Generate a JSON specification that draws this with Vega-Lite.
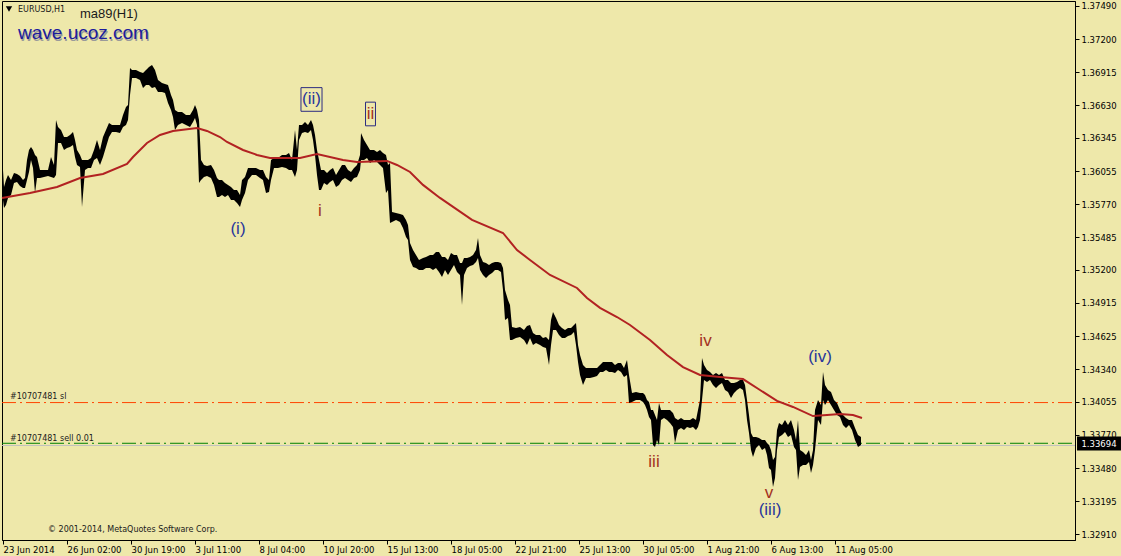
{
"$schema":"https://vega.github.io/schema/vega-lite/v6.json",
"width":1073,"height":539,
"autosize":{"type":"none"},
"padding":{"left":2,"top":1,"right":46,"bottom":16},
"background":"#EEE8AA",
"config":{"view":{"stroke":"black","strokeWidth":1},"axis":{"grid":false}},
"datasets":{
"levels":[{"kind":"bid","i":0,"p":1.33678},{"kind":"bid","i":1073,"p":1.33678},{"kind":"sell","i":0,"p":1.33697},{"kind":"sell","i":1073,"p":1.33697},{"kind":"sl","i":0,"p":1.3405},{"kind":"sl","i":1073,"p":1.3405}],
"price":[{"i":1,"h":1.36067,"p":1.35807},{"i":2,"h":1.3592,"p":1.35738},{"i":4,"h":1.35981,"p":1.35764},{"i":6,"h":1.36024,"p":1.35825},{"i":9,"h":1.35981,"p":1.35851},{"i":12,"h":1.36041,"p":1.35955},{"i":15,"h":1.36033,"p":1.35964},{"i":18,"h":1.36015,"p":1.35929},{"i":21,"h":1.35981,"p":1.35912},{"i":23,"h":1.35998,"p":1.35912},{"i":25,"h":1.36154,"p":1.35981},{"i":27,"h":1.36241,"p":1.3605},{"i":29,"h":1.36267,"p":1.36154},{"i":31,"h":1.36241,"p":1.36085},{"i":33,"h":1.36198,"p":1.35868},{"i":35,"h":1.3618,"p":1.35998},{"i":38,"h":1.36067,"p":1.35998},{"i":42,"h":1.36067,"p":1.36007},{"i":46,"h":1.36067,"p":1.36015},{"i":49,"h":1.3618,"p":1.36007},{"i":52,"h":1.36111,"p":1.35998},{"i":54,"h":1.36501,"p":1.36024},{"i":56,"h":1.3644,"p":1.36302},{"i":59,"h":1.36414,"p":1.36302},{"i":62,"h":1.36353,"p":1.36241},{"i":65,"h":1.36353,"p":1.36258},{"i":68,"h":1.36371,"p":1.36267},{"i":71,"h":1.36397,"p":1.36284},{"i":73,"h":1.36328,"p":1.3618},{"i":75,"h":1.36241,"p":1.36111},{"i":78,"h":1.36198,"p":1.36093},{"i":80,"h":1.36154,"p":1.35746},{"i":83,"h":1.36154,"p":1.36067},{"i":86,"h":1.36154,"p":1.36085},{"i":89,"h":1.36171,"p":1.36085},{"i":92,"h":1.36241,"p":1.36154},{"i":95,"h":1.36328,"p":1.36171},{"i":98,"h":1.36241,"p":1.36111},{"i":101,"h":1.36353,"p":1.3618},{"i":104,"h":1.36414,"p":1.36267},{"i":107,"h":1.36475,"p":1.36353},{"i":110,"h":1.36458,"p":1.36397},{"i":114,"h":1.36458,"p":1.36397},{"i":118,"h":1.36458,"p":1.36388},{"i":121,"h":1.36545,"p":1.3644},{"i":124,"h":1.36614,"p":1.36458},{"i":126,"h":1.36631,"p":1.36501},{"i":128,"h":1.36952,"p":1.36718},{"i":130,"h":1.36935,"p":1.36865},{"i":134,"h":1.36935,"p":1.36865},{"i":138,"h":1.36917,"p":1.36848},{"i":141,"h":1.36909,"p":1.36779},{"i":144,"h":1.36935,"p":1.36805},{"i":147,"h":1.36961,"p":1.36805},{"i":150,"h":1.36978,"p":1.36779},{"i":153,"h":1.36935,"p":1.36787},{"i":156,"h":1.36848,"p":1.36744},{"i":160,"h":1.36822,"p":1.36744},{"i":163,"h":1.36813,"p":1.36735},{"i":166,"h":1.36805,"p":1.36649},{"i":169,"h":1.36718,"p":1.36588},{"i":171,"h":1.36675,"p":1.36527},{"i":173,"h":1.36588,"p":1.36414},{"i":176,"h":1.36571,"p":1.36458},{"i":180,"h":1.36571,"p":1.36475},{"i":184,"h":1.36545,"p":1.36458},{"i":188,"h":1.36545,"p":1.3644},{"i":191,"h":1.36588,"p":1.36484},{"i":193,"h":1.36631,"p":1.36519},{"i":195,"h":1.36588,"p":1.36458},{"i":197,"h":1.36501,"p":1.35955},{"i":199,"h":1.36154,"p":1.35981},{"i":202,"h":1.36111,"p":1.36007},{"i":205,"h":1.36102,"p":1.36015},{"i":209,"h":1.36111,"p":1.35998},{"i":212,"h":1.36067,"p":1.35938},{"i":215,"h":1.35998,"p":1.35834},{"i":217,"h":1.35981,"p":1.35834},{"i":220,"h":1.35981,"p":1.35851},{"i":223,"h":1.35955,"p":1.35834},{"i":226,"h":1.35938,"p":1.35851},{"i":229,"h":1.3592,"p":1.35807},{"i":232,"h":1.35894,"p":1.35807},{"i":235,"h":1.35894,"p":1.35781},{"i":238,"h":1.35851,"p":1.35746},{"i":240,"h":1.35981,"p":1.35807},{"i":243,"h":1.36007,"p":1.35868},{"i":246,"h":1.36085,"p":1.35981},{"i":250,"h":1.36085,"p":1.36024},{"i":254,"h":1.36085,"p":1.36024},{"i":258,"h":1.36067,"p":1.35998},{"i":261,"h":1.36067,"p":1.35981},{"i":264,"h":1.36007,"p":1.35868},{"i":267,"h":1.35981,"p":1.35877},{"i":269,"h":1.36154,"p":1.35981},{"i":272,"h":1.36171,"p":1.36085},{"i":276,"h":1.36171,"p":1.36085},{"i":280,"h":1.36198,"p":1.36093},{"i":284,"h":1.36198,"p":1.36085},{"i":287,"h":1.36215,"p":1.36067},{"i":290,"h":1.36154,"p":1.36067},{"i":293,"h":1.36414,"p":1.36007},{"i":295,"h":1.36241,"p":1.36067},{"i":297,"h":1.36458,"p":1.36328},{"i":300,"h":1.36458,"p":1.36388},{"i":303,"h":1.36484,"p":1.36397},{"i":306,"h":1.36458,"p":1.36388},{"i":309,"h":1.36501,"p":1.36414},{"i":311,"h":1.36458,"p":1.36328},{"i":313,"h":1.36371,"p":1.36198},{"i":315,"h":1.36241,"p":1.36024},{"i":317,"h":1.36154,"p":1.35894},{"i":319,"h":1.36067,"p":1.35894},{"i":322,"h":1.36067,"p":1.35955},{"i":325,"h":1.36041,"p":1.35938},{"i":328,"h":1.36067,"p":1.35964},{"i":331,"h":1.36085,"p":1.35981},{"i":334,"h":1.36024,"p":1.3592},{"i":337,"h":1.36067,"p":1.35938},{"i":340,"h":1.36111,"p":1.35981},{"i":343,"h":1.36111,"p":1.35998},{"i":346,"h":1.36067,"p":1.35981},{"i":349,"h":1.3605,"p":1.35964},{"i":352,"h":1.36085,"p":1.35998},{"i":355,"h":1.36111,"p":1.36007},{"i":358,"h":1.36198,"p":1.36067},{"i":359,"h":1.36388,"p":1.36154},{"i":362,"h":1.36328,"p":1.36154},{"i":365,"h":1.36284,"p":1.36171},{"i":368,"h":1.36241,"p":1.36128},{"i":372,"h":1.36241,"p":1.36154},{"i":375,"h":1.36223,"p":1.36137},{"i":378,"h":1.36241,"p":1.36111},{"i":381,"h":1.36215,"p":1.36085},{"i":384,"h":1.36198,"p":1.35868},{"i":386,"h":1.36111,"p":1.35894},{"i":388,"h":1.36128,"p":1.35608},{"i":390,"h":1.35703,"p":1.35617},{"i":394,"h":1.35694,"p":1.35634},{"i":398,"h":1.35686,"p":1.35617},{"i":401,"h":1.35677,"p":1.35564},{"i":404,"h":1.35634,"p":1.35486},{"i":406,"h":1.3559,"p":1.3546},{"i":408,"h":1.35434,"p":1.35287},{"i":411,"h":1.35373,"p":1.35226},{"i":414,"h":1.3533,"p":1.35217},{"i":417,"h":1.35287,"p":1.352},{"i":421,"h":1.35304,"p":1.352},{"i":424,"h":1.35313,"p":1.35217},{"i":428,"h":1.3533,"p":1.35217},{"i":431,"h":1.3533,"p":1.352},{"i":434,"h":1.35356,"p":1.35217},{"i":437,"h":1.35356,"p":1.35183},{"i":440,"h":1.35313,"p":1.35139},{"i":443,"h":1.35313,"p":1.352},{"i":446,"h":1.35287,"p":1.35157},{"i":449,"h":1.35347,"p":1.352},{"i":452,"h":1.3533,"p":1.35243},{"i":455,"h":1.3533,"p":1.35183},{"i":458,"h":1.35261,"p":1.35157},{"i":460,"h":1.35261,"p":1.34896},{"i":462,"h":1.35304,"p":1.35157},{"i":465,"h":1.35304,"p":1.35217},{"i":468,"h":1.35313,"p":1.35235},{"i":471,"h":1.3533,"p":1.35243},{"i":474,"h":1.35373,"p":1.35269},{"i":476,"h":1.35478,"p":1.35304},{"i":478,"h":1.3533,"p":1.352},{"i":481,"h":1.35269,"p":1.35157},{"i":484,"h":1.35261,"p":1.35131},{"i":487,"h":1.35243,"p":1.35157},{"i":490,"h":1.35261,"p":1.35174},{"i":493,"h":1.35269,"p":1.352},{"i":496,"h":1.35269,"p":1.352},{"i":499,"h":1.35261,"p":1.35183},{"i":501,"h":1.35217,"p":1.35026},{"i":503,"h":1.35026,"p":1.34766},{"i":506,"h":1.3494,"p":1.34784},{"i":508,"h":1.34896,"p":1.34593},{"i":510,"h":1.34706,"p":1.34593},{"i":514,"h":1.34697,"p":1.3461},{"i":518,"h":1.34706,"p":1.34619},{"i":522,"h":1.34679,"p":1.34593},{"i":525,"h":1.34714,"p":1.34549},{"i":528,"h":1.34723,"p":1.3461},{"i":531,"h":1.34653,"p":1.34549},{"i":534,"h":1.34636,"p":1.34567},{"i":538,"h":1.34636,"p":1.34549},{"i":541,"h":1.3461,"p":1.34532},{"i":544,"h":1.34619,"p":1.34523},{"i":547,"h":1.34593,"p":1.34376},{"i":549,"h":1.34766,"p":1.34549},{"i":551,"h":1.34836,"p":1.34679},{"i":554,"h":1.34784,"p":1.34679},{"i":557,"h":1.34723,"p":1.34636},{"i":560,"h":1.34697,"p":1.3461},{"i":563,"h":1.34679,"p":1.3461},{"i":566,"h":1.34697,"p":1.34627},{"i":569,"h":1.34697,"p":1.34636},{"i":572,"h":1.34723,"p":1.34662},{"i":574,"h":1.3474,"p":1.34549},{"i":576,"h":1.34549,"p":1.34402},{"i":578,"h":1.34463,"p":1.34289},{"i":581,"h":1.34376,"p":1.34202},{"i":584,"h":1.3435,"p":1.34263},{"i":588,"h":1.3435,"p":1.34263},{"i":592,"h":1.3435,"p":1.34272},{"i":595,"h":1.3435,"p":1.3428},{"i":598,"h":1.34376,"p":1.34315},{"i":601,"h":1.34402,"p":1.34315},{"i":604,"h":1.34402,"p":1.34332},{"i":607,"h":1.34402,"p":1.34315},{"i":610,"h":1.34402,"p":1.34315},{"i":613,"h":1.34376,"p":1.34306},{"i":616,"h":1.34393,"p":1.34332},{"i":619,"h":1.34393,"p":1.34315},{"i":622,"h":1.3435,"p":1.34272},{"i":625,"h":1.34419,"p":1.34289},{"i":627,"h":1.34289,"p":1.34046},{"i":630,"h":1.34133,"p":1.34055},{"i":634,"h":1.34141,"p":1.34072},{"i":638,"h":1.34133,"p":1.34072},{"i":641,"h":1.34133,"p":1.34055},{"i":643,"h":1.34115,"p":1.34029},{"i":645,"h":1.34072,"p":1.33985},{"i":647,"h":1.34055,"p":1.33924},{"i":649,"h":1.33985,"p":1.33899},{"i":651,"h":1.33985,"p":1.33682},{"i":653,"h":1.33942,"p":1.33664},{"i":655,"h":1.33899,"p":1.33725},{"i":657,"h":1.34046,"p":1.33682},{"i":659,"h":1.33985,"p":1.33899},{"i":662,"h":1.33985,"p":1.33916},{"i":665,"h":1.33985,"p":1.33899},{"i":668,"h":1.33985,"p":1.33873},{"i":671,"h":1.33959,"p":1.33838},{"i":673,"h":1.33916,"p":1.33699},{"i":676,"h":1.33899,"p":1.33812},{"i":679,"h":1.33916,"p":1.33829},{"i":682,"h":1.33899,"p":1.33812},{"i":685,"h":1.33899,"p":1.33838},{"i":688,"h":1.33899,"p":1.33829},{"i":691,"h":1.33916,"p":1.33838},{"i":694,"h":1.33899,"p":1.33812},{"i":696,"h":1.33985,"p":1.33838},{"i":698,"h":1.34072,"p":1.33899},{"i":700,"h":1.34436,"p":1.34072},{"i":702,"h":1.34376,"p":1.34246},{"i":705,"h":1.34332,"p":1.34228},{"i":708,"h":1.34315,"p":1.34246},{"i":711,"h":1.34289,"p":1.34202},{"i":714,"h":1.34306,"p":1.34176},{"i":717,"h":1.34289,"p":1.34202},{"i":720,"h":1.34306,"p":1.3422},{"i":723,"h":1.34246,"p":1.34159},{"i":726,"h":1.34246,"p":1.34141},{"i":729,"h":1.3422,"p":1.3409},{"i":732,"h":1.3422,"p":1.34133},{"i":735,"h":1.34228,"p":1.34159},{"i":738,"h":1.34246,"p":1.34176},{"i":741,"h":1.34246,"p":1.34159},{"i":743,"h":1.34202,"p":1.34072},{"i":745,"h":1.34072,"p":1.33899},{"i":747,"h":1.33942,"p":1.33786},{"i":749,"h":1.33786,"p":1.33638},{"i":751,"h":1.33751,"p":1.33578},{"i":754,"h":1.33751,"p":1.33656},{"i":757,"h":1.33742,"p":1.33682},{"i":760,"h":1.33725,"p":1.33638},{"i":763,"h":1.33725,"p":1.33656},{"i":765,"h":1.33699,"p":1.33595},{"i":767,"h":1.33682,"p":1.33482},{"i":769,"h":1.33638,"p":1.33465},{"i":771,"h":1.33552,"p":1.33317},{"i":773,"h":1.33578,"p":1.33395},{"i":775,"h":1.33812,"p":1.33638},{"i":777,"h":1.33873,"p":1.33751},{"i":780,"h":1.33855,"p":1.33768},{"i":783,"h":1.33899,"p":1.33795},{"i":786,"h":1.33855,"p":1.33751},{"i":789,"h":1.33899,"p":1.33768},{"i":792,"h":1.33812,"p":1.33664},{"i":794,"h":1.33725,"p":1.33638},{"i":796,"h":1.33899,"p":1.33378},{"i":798,"h":1.33638,"p":1.33491},{"i":801,"h":1.33621,"p":1.33508},{"i":804,"h":1.33595,"p":1.33508},{"i":807,"h":1.33638,"p":1.33534},{"i":809,"h":1.33552,"p":1.33439},{"i":811,"h":1.33638,"p":1.33508},{"i":813,"h":1.33985,"p":1.33638},{"i":816,"h":1.34072,"p":1.33899},{"i":819,"h":1.34029,"p":1.33855},{"i":821,"h":1.34315,"p":1.34072},{"i":823,"h":1.34202,"p":1.34029},{"i":826,"h":1.34159,"p":1.34072},{"i":829,"h":1.34141,"p":1.34029},{"i":832,"h":1.34072,"p":1.33985},{"i":835,"h":1.34046,"p":1.33942},{"i":838,"h":1.33985,"p":1.33924},{"i":841,"h":1.33942,"p":1.33855},{"i":844,"h":1.33916,"p":1.33829},{"i":847,"h":1.33899,"p":1.33855},{"i":850,"h":1.33899,"p":1.33812},{"i":853,"h":1.33829,"p":1.33725},{"i":856,"h":1.33768,"p":1.33664},{"i":859,"h":1.33751,"p":1.33682}],
"ma":[{"i":0,"p":1.35825},{"i":28,"p":1.35868},{"i":55,"p":1.3592},{"i":78,"p":1.35998},{"i":101,"p":1.36033},{"i":125,"p":1.3612},{"i":131,"p":1.3618},{"i":145,"p":1.36302},{"i":158,"p":1.36371},{"i":171,"p":1.36406},{"i":195,"p":1.36432},{"i":205,"p":1.36406},{"i":218,"p":1.36353},{"i":225,"p":1.3631},{"i":241,"p":1.36241},{"i":255,"p":1.36198},{"i":268,"p":1.36171},{"i":298,"p":1.36171},{"i":315,"p":1.36206},{"i":341,"p":1.36154},{"i":355,"p":1.36137},{"i":385,"p":1.36146},{"i":395,"p":1.36111},{"i":408,"p":1.3605},{"i":421,"p":1.35938},{"i":438,"p":1.35825},{"i":470,"p":1.35634},{"i":501,"p":1.35521},{"i":515,"p":1.35373},{"i":528,"p":1.35287},{"i":548,"p":1.35157},{"i":575,"p":1.35044},{"i":585,"p":1.34957},{"i":598,"p":1.34871},{"i":615,"p":1.34792},{"i":628,"p":1.34723},{"i":648,"p":1.34593},{"i":665,"p":1.34463},{"i":681,"p":1.34358},{"i":698,"p":1.34289},{"i":718,"p":1.34272},{"i":741,"p":1.34254},{"i":758,"p":1.34159},{"i":775,"p":1.34064},{"i":791,"p":1.34012},{"i":811,"p":1.33933},{"i":825,"p":1.33942},{"i":838,"p":1.33951},{"i":851,"p":1.33942},{"i":860,"p":1.33916}],
"labels":[{"t":"(i)","deg":"minor","i":236,"p":1.35555},{"t":"i","deg":"minute","i":318,"p":1.35712},{"t":"(ii)","deg":"minor","i":309.5,"p":1.36679},{"t":"ii","deg":"minute","i":368.5,"p":1.36553},{"t":"iii","deg":"minute","i":652,"p":1.33535},{"t":"iv","deg":"minute","i":703.5,"p":1.3458},{"t":"v","deg":"minute","i":767,"p":1.33266},{"t":"(iii)","deg":"minor","i":768,"p":1.33114},{"t":"(iv)","deg":"minor","i":818,"p":1.34445}],
"notes":[{"role":"sym","i":7,"p":1.37464,"t":""},{"role":"symbol","i":16,"p":1.37455,"t":"EURUSD,H1"},{"role":"ind","i":78,"p":1.37421,"t":"ma89(H1)"},{"role":"site","i":16,"p":1.37256,"t":"wave.ucoz.com"},{"role":"small","i":8,"p":1.34098,"t":"#10707481 sl"},{"role":"small","i":8,"p":1.33734,"t":"#10707481 sell 0.01"},{"role":"small","i":46,"p":1.32945,"t":"© 2001-2014, MetaQuotes Software Corp."}],
"last":[{"i":1097,"p":1.33694,"t":"1.33694"}]
},
"encoding":{
 "x":{"field":"i","type":"quantitative","scale":{"domain":[0,1073],"nice":false,"zero":false},
  "axis":{"orient":"bottom","values":[1,65,129,193,257,321,385,449,513,577,641,705,769,833],"labelExpr":"['23 Jun 2014','26 Jun 02:00','30 Jun 19:00','3 Jul 11:00','8 Jul 04:00','10 Jul 20:00','15 Jul 13:00','18 Jul 05:00','22 Jul 21:00','25 Jul 13:00','30 Jul 05:00','1 Aug 21:00','6 Aug 13:00','11 Aug 05:00'][round((datum.value-1)/64)]","title":null,"tickSize":4,"tickColor":"black","domainColor":"black","labelColor":"black","labelFont":"DejaVu Sans","labelFontSize":8.5,"labelAlign":"left","labelPadding":1,"labelFlush":false,"labelOverlap":false,"labelBound":false}},
 "y":{"field":"p","type":"quantitative","scale":{"domain":[1.32858,1.37533],"nice":false,"zero":false},
  "axis":{"orient":"right","values":[1.3291,1.33195,1.3348,1.3377,1.34055,1.3434,1.34625,1.34915,1.352,1.35485,1.3577,1.36055,1.36345,1.3663,1.36915,1.372,1.3749],"format":".5f","title":null,"tickSize":4,"tickColor":"black","domainColor":"black","labelColor":"black","labelFont":"DejaVu Sans","labelFontSize":8.5,"labelPadding":2,"labelOverlap":false,"labelBound":false,"labelFlush":false}}
},
"resolve":{"scale":{"color":"independent","strokeDash":"independent"}},
"layer":[
{"data":{"name":"levels"},"mark":{"type":"line","strokeWidth":1},
 "encoding":{
 "color":{"field":"kind","type":"nominal","scale":{"domain":["bid","sell","sl"],"range":["#c0c0c0","#008000","#ff4500"]},"legend":null},
 "strokeDash":{"field":"kind","type":"nominal","scale":{"domain":["bid","sell","sl"],"range":[[1,0],[14,4,2,4],[14,4,2,4]]},"legend":null}}},
{"data":{"name":"price"},"mark":{"type":"area","color":"black"},
 "encoding":{"y2":{"field":"h"}}},
{"data":{"name":"ma"},"mark":{"type":"line","color":"#b22222","strokeWidth":2},"encoding":{}},
{"data":{"name":"labels"},"transform":[{"filter":"datum.t === '(ii)'"}],"mark":{"type":"point","filled":false,"stroke":"#2b2b80","strokeWidth":1,"opacity":1,"size":560,"shape":"M-0.89,-1H0.89V1H-0.89Z"},"encoding":{}},
{"data":{"name":"labels"},"transform":[{"filter":"datum.t === 'ii'"}],"mark":{"type":"point","filled":false,"stroke":"#2b2b80","strokeWidth":1,"opacity":1,"size":560,"shape":"M-0.42,-1H0.42V1H-0.42Z"},"encoding":{}},
{"data":{"name":"labels"},"mark":{"type":"text","font":"Liberation Sans","fontSize":17,"align":"center","baseline":"middle"},
 "encoding":{"text":{"field":"t"},
 "color":{"field":"deg","type":"nominal","scale":{"domain":["minor","minute"],"range":["#27359b","#a3311e"]},"legend":null}}},
{"data":{"name":"notes"},"transform":[{"filter":"datum.role === 'sym'"}],"mark":{"type":"point","shape":"triangle-down","filled":true,"color":"black","opacity":1,"size":40},"encoding":{}},
{"data":{"name":"notes"},"transform":[{"filter":"datum.role === 'symbol' || datum.role === 'small'"}],"mark":{"type":"text","font":"DejaVu Sans","fontSize":8,"align":"left","baseline":"middle","color":"#1a1a1a"},
 "encoding":{"text":{"field":"t"}}},
{"data":{"name":"notes"},"transform":[{"filter":"datum.role === 'ind'"}],"mark":{"type":"text","font":"Liberation Sans","fontSize":13,"align":"left","baseline":"middle","color":"#1a1a1a"},
 "encoding":{"text":{"field":"t"}}},
{"data":{"name":"notes"},"transform":[{"filter":"datum.role === 'site'"}],"mark":{"type":"text","font":"Liberation Sans","fontSize":19,"align":"left","baseline":"middle","color":"#9a9a9a","dx":1,"dy":2},
 "encoding":{"text":{"field":"t"}}},
{"data":{"name":"notes"},"transform":[{"filter":"datum.role === 'site'"}],"mark":{"type":"text","font":"Liberation Sans","fontSize":19,"align":"left","baseline":"middle","color":"#1c1c9c"},
 "encoding":{"text":{"field":"t"}}},
{"data":{"name":"last"},"mark":{"type":"point","filled":true,"color":"black","opacity":1,"size":784,"shape":"M-1.57,-0.5H1.57V0.5H-1.57Z"},"encoding":{}},
{"data":{"name":"last"},"mark":{"type":"text","font":"DejaVu Sans","fontSize":8.5,"align":"center","baseline":"middle","color":"white"},
 "encoding":{"text":{"field":"t"}}}
]
}
